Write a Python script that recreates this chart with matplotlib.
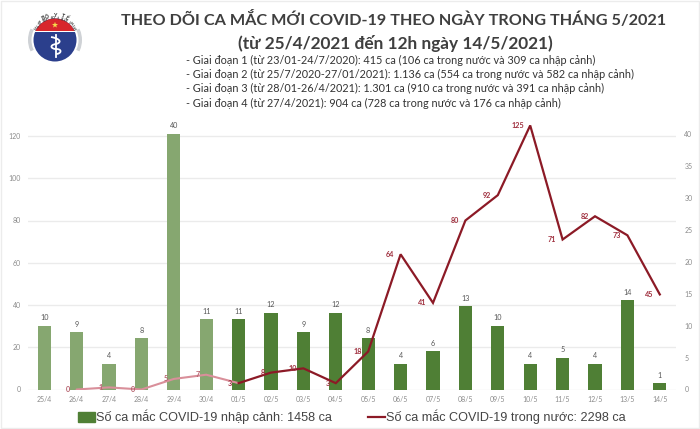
import numpy as np
import matplotlib
matplotlib.use("Agg")
import matplotlib.pyplot as plt
from matplotlib.patches import Circle, Wedge, Rectangle, Polygon, PathPatch
from matplotlib.path import Path
from matplotlib.lines import Line2D

dates = ["25/4", "26/4", "27/4", "28/4", "29/4", "30/4", "01/5", "02/5", "03/5", "04/5",
         "05/5", "06/5", "07/5", "08/5", "09/5", "10/5", "11/5", "12/5", "13/5", "14/5"]
imported = [10, 9, 4, 8, 40, 11, 11, 12, 9, 12, 8, 4, 6, 13, 10, 4, 5, 4, 14, 1]
domestic = [None, 0, 1, 0, 5, 7, 3, 8, 10, 3, 18, 64, 41, 80, 92, 125, 71, 82, 73, 45]
left_ticks = [0, 20, 40, 60, 80, 100, 120]
right_ticks = [0, 5, 10, 15, 20, 25, 30, 35, 40]
faded_count = 6
title_lines = ["THEO DÕI CA MẮC MỚI COVID-19 THEO NGÀY TRONG THÁNG 5/2021",
               "(từ 25/4/2021 đến 12h ngày 14/5/2021)"]
stage_lines = ["- Giai đoạn 1 (từ 23/01-24/7/2020): 415 ca (106 ca trong nước và 309 ca nhập cảnh)",
               "- Giai đoạn 2 (từ 25/7/2020-27/01/2021): 1.136 ca (554 ca trong nước và 582 ca nhập cảnh)",
               "- Giai đoạn 3 (từ 28/01-26/4/2021): 1.301 ca (910 ca trong nước và 391 ca nhập cảnh)",
               "- Giai đoạn 4 (từ 27/4/2021): 904 ca (728 ca trong nước và 176 ca nhập cảnh)"]
legend_bar = "Số ca mắc COVID-19 nhập cảnh: 1458 ca"
legend_line = "Số ca mắc COVID-19 trong nước: 2298 ca"

W, H = 700, 429
DARK_G, LIGHT_G = "#4f7f35", "#86a770"
DARK_R, LIGHT_R = "#8c1a26", "#d98f9a"
TICK = "#8c8c8c"
FONT = ["Lato", "Noto Sans", "DejaVu Sans"]
plt.rcParams["font.family"] = FONT

fig = plt.figure(figsize=(W / 100, H / 100), dpi=100, facecolor="white")

# pixel overlay for page furniture
pg = fig.add_axes([0, 0, 1, 1], zorder=5)
pg.set_xlim(0, W); pg.set_ylim(H, 0); pg.axis("off"); pg.patch.set_alpha(0)
pg.add_patch(Rectangle((1, 1), W - 2, H - 2, fill=False, ec="#ececec", lw=1))

# axes box: x 28..676 px, y 120..389.5 px
L, R, T, B = 28, 676, 120, 389.5
rect = [L / W, 1 - B / H, (R - L) / W, (B - T) / H]
x = np.arange(len(dates))
ylim_left = (B - T) / 2.1125
ylim_right = (B - T) / 6.39

ax = fig.add_axes(rect)
ax.set_xlim(-0.5, len(dates) - 0.5)
ax.set_ylim(0, ylim_left)
ax.set_yticks(left_ticks)
ax.grid(axis="y", color="#ebebeb", lw=1)
ax.set_axisbelow(True)
ax.set_xticks(x, dates)
ax.tick_params(axis="both", length=0, labelsize=5, labelcolor=TICK, pad=5)
for s in ax.spines.values():
    s.set_visible(False)

ax2 = ax.twinx()
ax2.set_ylim(0, ylim_right)
ax2.set_yticks(right_ticks)
ax2.tick_params(axis="y", length=0, labelsize=5, labelcolor=TICK, pad=6)
for s in ax2.spines.values():
    s.set_visible(False)
colors = [LIGHT_G if i < faded_count else DARK_G for i in range(len(dates))]
bars = ax2.bar(x, imported, width=0.41, color=colors)
for xi, v in zip(x, imported):
    ax2.annotate(str(v), (xi, v), xytext=(0, 3.2), textcoords="offset points", ha="center",
                 va="bottom", fontsize=5.2, color="#555555", annotation_clip=False)

ax3 = ax.twinx()
ax3.set_ylim(0, ylim_left)
ax3.set_yticks([])
for s in ax3.spines.values():
    s.set_visible(False)
xl = x[1:]
yl = np.array(domestic[1:], dtype=float)
n = faded_count - 1
ax3.plot(xl[:n + 1], yl[:n + 1], color=LIGHT_R, lw=1.5, solid_capstyle="round")
ax3.plot(xl[n:], yl[n:], color=DARK_R, lw=1.6, solid_joinstyle="miter")
for i, (xi, v) in enumerate(zip(xl, yl)):
    ax3.annotate(str(int(v)), (xi, v), xytext=(-4.5, 0), textcoords="offset points", ha="right",
                 va="center", fontsize=5.2, fontweight="bold",
                 color="#a0303f" if i >= n else "#b5606c", annotation_clip=False)

# titles
pg.text(394, 20, title_lines[0], ha="center", va="center", fontsize=11.7, fontweight="bold", color="#3f3f3f")
pg.text(395, 44, title_lines[1], ha="center", va="center", fontsize=12.4, fontweight="bold", color="#3f3f3f")
for y, s in zip([60, 74.5, 88.5, 103], stage_lines):
    pg.text(186, y, s, ha="left", va="center", fontsize=7.85, color="#333333")

# legend
leg_font = {"family": "Liberation Sans", "size": 9.05}
fig.legend([Rectangle((0, 0), 1, 1, color=DARK_G), Line2D([0], [0], color=DARK_R, lw=1.6)],
           [legend_bar, legend_line], ncols=2, loc="center", bbox_to_anchor=(352 / W, 1 - 417 / H),
           frameon=False, prop=leg_font, labelcolor="#444444", handlelength=1.35, handletextpad=0.1,
           columnspacing=2.85, handleheight=0.8, borderpad=0, borderaxespad=0)

# logo (y axis is inverted: wedge angles 180..360 are the upper half)
cx, cy = 55, 40
pg.add_patch(Circle((cx, cy), 27, fc="#cfd2d6", ec="none"))
pg.add_patch(Wedge((cx, cy), 28, 25, 155, fc="white", ec="none"))
pg.add_patch(Wedge((cx, cy), 28, 205, 335, fc="white", ec="none"))
pg.add_patch(Circle((cx, cy), 23.5, fc="white", ec="none"))
pg.add_patch(Circle((cx, cy), 21.5, fc="#2b3f8c", ec="none"))
red = Circle((cx, cy), 21.5, fc="#d8262c", ec="none")
pg.add_patch(red)
red.set_clip_path(Rectangle((cx - 30, cy - 30), 60, 20.5, transform=pg.transData))
pg.add_patch(Rectangle((cx - 21, cy - 9.5), 42, 1.8, fc="white", ec="none"))
star = [(cx + (3.2 if k % 2 == 0 else 1.3) * np.sin(k * np.pi / 5),
         cy - 15 - (3.2 if k % 2 == 0 else 1.3) * np.cos(k * np.pi / 5)) for k in range(10)]
pg.add_patch(Polygon(star, fc="#f5d94a", ec="none"))
pg.plot([cx + 1, cx + 1], [cy - 5, cy + 17], color="white", lw=1.3)
snake = Path([(cx - 4, cy - 3), (cx + 7, cy - 1), (cx + 6, cy + 3), (cx + 1, cy + 4),
              (cx - 6, cy + 5), (cx - 4, cy + 9), (cx + 1, cy + 9),
              (cx + 8, cy + 9), (cx + 6, cy + 14), (cx + 1, cy + 14)],
             [Path.MOVETO, Path.CURVE4, Path.CURVE4, Path.CURVE4, Path.CURVE4, Path.CURVE4,
              Path.CURVE4, Path.CURVE4, Path.CURVE4, Path.CURVE4])
pg.add_patch(PathPatch(snake, fill=False, ec="white", lw=1.3))
def arc_text(s, r, start, step, top=True):
    for k, ch in enumerate(s):
        a = np.deg2rad(start + k * step)
        px, py = cx + r * np.sin(a), cy - r * np.cos(a)
        rot = -np.rad2deg(a) if top else 180 - np.rad2deg(a)
        pg.text(px, py, ch, fontsize=2.8 if not top else 3.8, rotation=rot, ha="center", va="center",
                color="#333333", fontweight="bold", rotation_mode="anchor")
arc_text("BỘ Y TẾ", 24.8, -27, 9)
arc_text("MINISTRY OF HEALTH", 25, 58 + 0, 7.4 * -1 + 0.6, top=False)
fig.savefig("out.png", dpi=100, facecolor="white")
